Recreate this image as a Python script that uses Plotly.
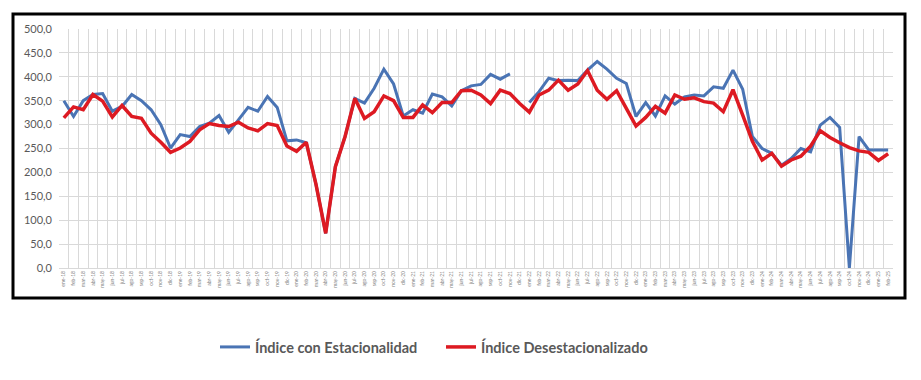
import plotly.graph_objects as go

months = ["ene", "feb", "mar", "abr", "may", "jun", "jul", "ago", "sep", "oct", "nov", "dic"]
categories = [f"{m}-{y:02d}" for y in range(18, 26) for m in months][:86]

indice_estacional = [
    350, 317, 350, 363, 365, 328, 338, 363, 350, 331, 300, 251,
    279, 275, 296, 303, 319, 284, 310, 336, 328, 359, 336, 266,
    268, 262, 175, 72.5, 212, 275, 355, 345, 376, 416, 385, 318,
    331, 324, 364, 358, 339, 371, 381, 384, 405, 395, 406, None,
    346, 369, 397, 392, 393, 392, 414, 432, 416, 397, 386, 317,
    346, 318, 360, 343, 358, 362, 360, 379, 376, 414, 374, 275,
    250, 240, 215, 229, 250, 243, 299, 315, 294, 0, 275, 247,
    247, 247,
]

indice_desestacionalizado = [
    314, 337, 331, 363, 349, 316, 340, 317, 313, 282, 263, 242,
    251, 265, 289, 302, 298, 296, 305, 293, 287, 302, 298, 255,
    244, 263, 175, 72.5, 212, 275, 355, 313, 327, 360, 350, 315,
    315, 341, 325, 346, 346, 371, 372, 362, 344, 372, 365, 344,
    326, 362, 372, 393, 372, 385, 413, 372, 353, 371, 334, 297,
    315, 338, 324, 362, 353, 356, 348, 345, 327, 373, 320, 265,
    226, 240, 213, 226, 234, 255, 287, 273, 262, 252, 245, 242,
    225, 239,
]

y_ticks = [0, 50, 100, 150, 200, 250, 300, 350, 400, 450, 500]

fig = go.Figure()
fig.add_trace(go.Scatter(
    x=categories, y=indice_estacional, mode="lines",
    name="Índice con Estacionalidad",
    line=dict(color="#4A74B4", width=3),
    connectgaps=False,
))
fig.add_trace(go.Scatter(
    x=categories, y=indice_desestacionalizado, mode="lines",
    name="Índice Desestacionalizado",
    line=dict(color="#DD1A22", width=3.5),
))

OFF = 8  # page offset of the figure in the window
W, H = 913, 372
L, T = 59 - OFF, 29 - OFF
pw, ph = 834, 239
R = W - L - pw
B = H - T - ph

def px(x):
    return (x - OFF - L) / pw

def py(y):
    return (T + ph - (y - OFF)) / ph

fig.add_shape(type="rect", xref="paper", yref="paper",
              x0=px(13), x1=px(905), y0=py(298), y1=py(14),
              line=dict(color="black", width=3), fillcolor="rgba(0,0,0,0)")

fig.update_layout(
    width=W, height=H,
    margin=dict(l=L, r=R, t=T, b=B),
    paper_bgcolor="white", plot_bgcolor="white",
    separators=",.",
    font=dict(family="Lato", color="#595959"),
    showlegend=True,
    legend=dict(orientation="h", x=px(215), xanchor="left", y=py(347), yanchor="middle",
                font=dict(size=14.5, family="Lato", color="#595959", weight="bold"),
                bgcolor="rgba(0,0,0,0)", itemwidth=30, tracegroupgap=0,
                entrywidth=181, entrywidthmode="pixels"),
    xaxis=dict(type="category", categoryorder="array", categoryarray=categories,
               range=[-0.5, len(categories) - 0.5],
               tickson="boundaries", showgrid=True, gridcolor="#D9D9D9", gridwidth=1,
               tickangle=-90, tickfont=dict(size=5, color="#7F7F7F"),
               showline=True, linecolor="#D9D9D9", ticks="", fixedrange=True),
    yaxis=dict(range=[0, 500], tickvals=y_ticks, tickformat=".1f",
               showgrid=True, gridcolor="#D9D9D9", gridwidth=1,
               tickfont=dict(size=11, color="#595959"),
               showline=False, zeroline=False, ticks="", ticklabelstandoff=6),
)

fig.write_html("out.html")
